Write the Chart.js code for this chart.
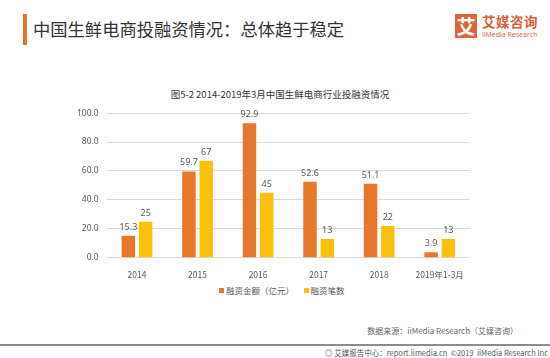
<!DOCTYPE html>
<html><head><meta charset="utf-8">
<script src="https://cdn.jsdelivr.net/npm/chart.js@4"></script>
<style>
html,body{margin:0;padding:0;background:#fff;}
body{width:550px;height:358px;position:relative;overflow:hidden;font-family:"Noto Sans CJK SC","Noto Sans",sans-serif;}
#bar{position:absolute;left:23px;top:14px;width:4px;height:31px;background:#E8702F;}
#title{position:absolute;left:33px;top:16px;font-size:17.3px;color:#333;white-space:nowrap;}
#logo{position:absolute;left:455px;top:14px;width:22px;height:24px;background:#E0633A;color:#fff;font-size:19px;font-weight:bold;line-height:24px;text-align:center;}
#logot{position:absolute;left:482px;top:11px;font-size:13.5px;font-weight:bold;color:#D9603A;white-space:nowrap;letter-spacing:0.5px;}
#logos{position:absolute;left:482px;top:30px;font-size:7px;color:#D9603A;white-space:nowrap;font-family:"Open Sans",sans-serif;}
#ctitle{position:absolute;left:0;width:560px;top:87px;text-align:center;font-size:9.5px;color:#333;white-space:nowrap;}
#legend{position:absolute;top:284px;left:219px;font-size:8.5px;color:#595959;white-space:nowrap;}
#legend span.sw{display:inline-block;width:5px;height:5px;margin-right:2px;vertical-align:1px;}
#src{position:absolute;right:32px;top:325px;font-size:8px;color:#666;white-space:nowrap;}
#line{position:absolute;left:0;top:344px;width:550px;height:2px;background:#8c8c8c;}
#foot{position:absolute;right:2px;top:347px;font-size:7.5px;color:#555;white-space:nowrap;}
#c{position:absolute;left:0;top:100px;}
</style></head><body>
<div id="bar"></div>
<div id="title">中国生鲜电商投融资情况：总体趋于稳定</div>
<div id="logo">艾</div>
<div id="logot">艾媒咨询</div>
<div id="logos">iiMedia Research</div>
<div id="ctitle">图5-2 2014-2019年3月中国生鲜电商行业投融资情况</div>
<canvas id="c" width="550" height="184"></canvas>
<div id="legend"><span class="sw" style="background:#E8772E"></span>融资金额（亿元） &nbsp;&nbsp;&nbsp;&nbsp;<span class="sw" style="background:#F9C10E"></span>融资笔数</div>
<div id="src">数据来源：iiMedia Research（艾媒咨询）</div>
<div id="line"></div>
<div id="foot">◎ 艾媒报告中心：report.iimedia.cn &nbsp;©2019 &nbsp;iiMedia Research Inc</div>
<script>
const categories = ["2014","2015","2016","2017","2018","2019年1-3月"];
const amount = [15.3, 59.7, 92.9, 52.6, 51.1, 3.9];
const deals = [25, 67, 45, 13, 22, 13];
const seriesNames = ["融资金额（亿元）","融资笔数"];
const yTicks = [0,20,40,60,80,100];

const labelPlugin = {
  id:'lbl',
  afterDatasetsDraw(chart){
    const ctx = chart.ctx;
    ctx.save();
    ctx.font = '9px "Noto Sans","DejaVu Sans",sans-serif';
    ctx.fillStyle = '#595959';
    ctx.textAlign = 'center';
    ctx.textBaseline = 'bottom';
    chart.data.datasets.forEach((ds,i)=>{
      const meta = chart.getDatasetMeta(i);
      meta.data.forEach((el,j)=>{
        const v = ds.data[j];
        const txt = i===0 ? v.toFixed(1) : String(v);
        ctx.fillText(txt, el.x, el.y - 4);
      });
    });
    ctx.restore();
  }
};

new Chart(document.getElementById('c'), {
  type:'bar',
  data:{
    labels: categories,
    datasets:[
      {label:seriesNames[0], data:amount, backgroundColor:'#E8772E', categoryPercentage:0.57, barPercentage:0.78},
      {label:seriesNames[1], data:deals, backgroundColor:'#F9C10E', categoryPercentage:0.57, barPercentage:0.78}
    ]
  },
  options:{
    responsive:false, animation:false,
    layout:{padding:{left:69,right:80,top:12,bottom:0}},
    plugins:{legend:{display:false}, tooltip:{enabled:false}},
    scales:{
      x:{
        grid:{display:false},
        border:{display:false},
        ticks:{color:'#595959', font:{size:8.5, family:'"Noto Sans CJK SC","Noto Sans",sans-serif'}, padding:4, maxRotation:0}
      },
      y:{
        min:0, max:100,
        afterBuildTicks(axis){ axis.ticks = yTicks.map(v=>({value:v})); },
        grid:{color:'#d9d9d9', drawTicks:false, lineWidth:1},
        border:{display:false},
        ticks:{color:'#595959', font:{size:8.5, family:'"Noto Sans","DejaVu Sans",sans-serif'}, padding:8, callback:v=>Number(v).toFixed(1)}
      }
    }
  },
  plugins:[labelPlugin]
});
</script>
</body></html>
